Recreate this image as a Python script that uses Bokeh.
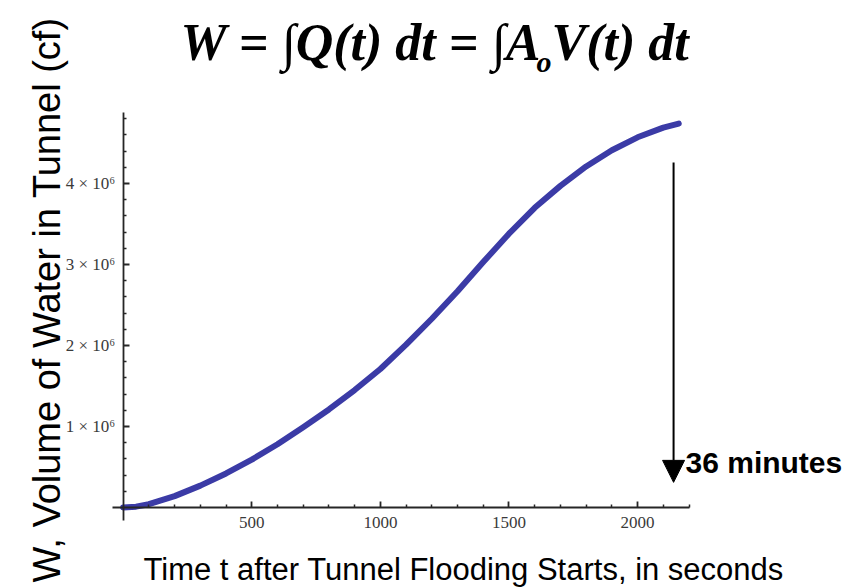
from bokeh.plotting import figure
from bokeh.models import (Range1d, LinearAxis, FixedTicker, Label, Arrow,
                          NormalHead, ColumnDataSource)
from bokeh.embed import file_html
from bokeh.resources import INLINE

# ---- data ----
t_s = [0, 50, 100, 200, 300, 400, 500, 600, 700, 800, 900, 1000, 1100, 1200,
       1300, 1400, 1500, 1600, 1700, 1800, 1900, 2000, 2100, 2160]
W_cf = [0, 0.01e6, 0.04e6, 0.14e6, 0.27e6, 0.42e6, 0.59e6, 0.78e6, 0.99e6,
        1.21e6, 1.45e6, 1.71e6, 2.01e6, 2.33e6, 2.67e6, 3.03e6, 3.38e6, 3.70e6,
        3.97e6, 4.21e6, 4.41e6, 4.57e6, 4.69e6, 4.74e6]
x_major = [500, 1000, 1500, 2000]
x_minor = [v for v in range(100, 2201, 100) if v % 500 != 0]
y_major = [1e6, 2e6, 3e6, 4e6]
y_minor = [k * 0.2e6 for k in range(1, 25) if k % 5 != 0]
y_tick_labels = ["1 \u00d7 10\u2076", "2 \u00d7 10\u2076", "3 \u00d7 10\u2076", "4 \u00d7 10\u2076"]
arrow_t = 2140
arrow_from, arrow_to = 4.26e6, 0.31e6
arrow_text = "36 minutes"
x_title = "Time t after Tunnel Flooding Starts, in seconds"
y_title = "W, Volume of Water in Tunnel (cf)"

W, H = 858, 587
X0, X1 = -477.0, 2859.0
Y0, Y1 = -0.988e6, 6.259e6


def dx(px):
    return X0 + px / W * (X1 - X0)


def dy(py):
    return Y1 - py / H * (Y1 - Y0)


def base(py, size):
    # place a label so that its baseline lands on screen row py
    return dy(py - 0.38 * size)


p = figure(width=W, height=H, x_range=Range1d(X0, X1), y_range=Range1d(Y0, Y1),
           output_backend="svg", toolbar_location=None, min_border=0,
           x_axis_location=None, y_axis_location=None)
p.outline_line_color = None
p.background_fill_color = "white"
p.border_fill_color = "white"
p.xgrid.visible = False
p.ygrid.visible = False

axis_col = "#262626"
xaxis = LinearAxis(fixed_location=0, bounds=(-41, 2200),
                   ticker=FixedTicker(ticks=x_major, minor_ticks=x_minor))
yaxis = LinearAxis(fixed_location=0, bounds=(-0.16e6, 4.88e6),
                   ticker=FixedTicker(ticks=y_major, minor_ticks=y_minor),
                   major_label_overrides={int(v): s for v, s in zip(y_major, y_tick_labels)})
for ax in (xaxis, yaxis):
    ax.axis_line_color = axis_col
    ax.axis_line_width = 1.8
    ax.major_tick_in = 6
    ax.major_tick_out = 0
    ax.minor_tick_in = 3
    ax.minor_tick_out = 0
    ax.major_tick_line_color = axis_col
    ax.minor_tick_line_color = axis_col
    ax.major_tick_line_width = 1.8
    ax.minor_tick_line_width = 1.5
    ax.major_label_text_font = "Liberation Serif"
    ax.major_label_text_font_size = "17px"
    ax.major_label_text_color = "#3a3a3a"
xaxis.major_label_standoff = 10
yaxis.major_label_standoff = 8
p.add_layout(xaxis, "below")
p.add_layout(yaxis, "left")

src = ColumnDataSource(dict(t=t_s, w=W_cf))
p.line("t", "w", source=src, line_color="#3b3ba6", line_width=6,
       line_cap="round", line_join="round")

p.add_layout(Arrow(x_start=arrow_t, y_start=arrow_from, x_end=arrow_t, y_end=arrow_to,
                   line_color="black", line_width=2,
                   end=NormalHead(size=22, fill_color="black", line_color="black")))

p.add_layout(Label(x=dx(685), y=base(473, 30), text=arrow_text, text_font="Liberation Sans",
                   text_font_style="bold", text_font_size="30px", text_color="black",
                   text_baseline="alphabetic"))

p.add_layout(Label(x=dx(143), y=base(581, 31), text=x_title, text_font="Liberation Sans",
                   text_font_size="31px", text_color="black", text_baseline="alphabetic"))

p.add_layout(Label(x=dx(46), y=dy(582), text=y_title, text_font="Liberation Sans",
                   text_font_size="38px", text_color="black", angle=1.5707963,
                   text_align="left", text_baseline="alphabetic"))

# formula
f_font = "Liberation Serif"
p.add_layout(Label(x=dx(180), y=base(62, 52), text="W = \u222bQ(t) dt = \u222bA", text_font=f_font,
                   text_font_style="bold italic", text_font_size="52px", text_color="black",
                   text_baseline="alphabetic"))
p.add_layout(Label(x=dx(536), y=base(72, 30), text="o", text_font=f_font,
                   text_font_style="bold italic", text_font_size="30px", text_color="black",
                   text_baseline="alphabetic"))
p.add_layout(Label(x=dx(551), y=base(62, 52), text="V(t) dt", text_font=f_font,
                   text_font_style="bold italic", text_font_size="52px", text_color="black",
                   text_baseline="alphabetic"))

open("out.html", "w").write(file_html(p, INLINE))
